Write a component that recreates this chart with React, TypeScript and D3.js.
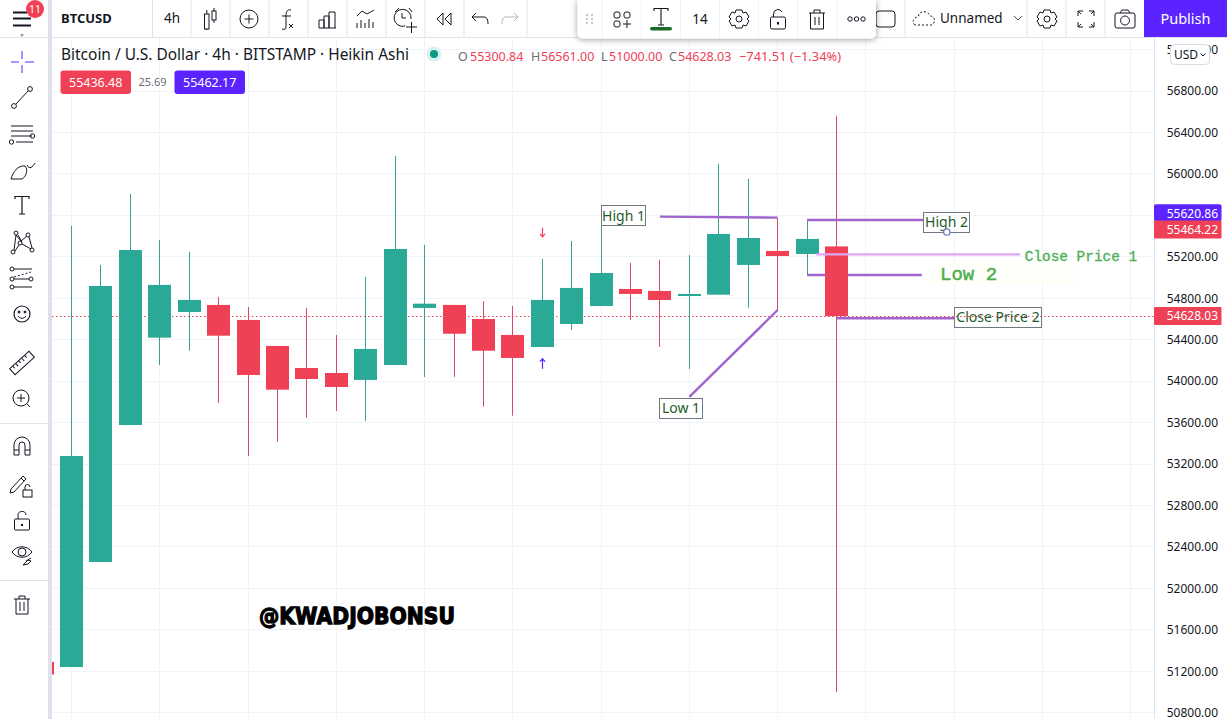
import React from "react";
import * as d3 from "d3";

// ---------- data ----------
const opens = [51241, 52255, 53577, 54420, 54668, 54736, 54591, 54340, 54127, 54079, 54012, 54156, 54707, 54736, 54600, 54446, 54330, 54552, 54726, 54890, 54871, 54822, 54835, 55122, 55257, 55228, 55300.84];
const closes = [53278, 54919, 55266, 54929, 54784, 54439, 54060, 53918, 54021, 53944, 54311, 55276, 54748, 54458, 54294, 54224, 54784, 54900, 55044, 54842, 54784, 54842, 55421, 55382, 55208, 55373, 54628.03];
const highs = [55498, 55122, 55807, 55363, 55247, 54813, 54716, 54340, 54707, 54446, 55006, 56174, 55315, 54736, 54774, 54726, 55180, 55353, 55595, 55141, 55170, 55218, 56097, 55952, 55575, 55556, 56561];
const lows = [51241, 52255, 53577, 54156, 54294, 53790, 53278, 53416, 53648, 53712, 53616, 54156, 54041, 54041, 53754, 53667, 54330, 54494, 54726, 54591, 54330, 54118, 54835, 54709, 54678, 55025, 51000];
const priceTicks = [57200, 56800, 56400, 56000, 55600, 55200, 54800, 54400, 54000, 53600, 53200, 52800, 52400, 52000, 51600, 51200, 50800];
const timeGridBars = [0, 3, 6, 9, 12, 15, 18, 21, 24, 27, 30, 33, 36];
const lastPrice = 54628.03;
const priceTags = [55620.86, 55464.22, 54628.03];
const trendLines: [number, number, number, number][] = [
  [20, 55588, 24, 55579],
  [21, 53848, 24, 54687],
  [25, 55556, 28.94, 55556],
  [25, 55025, 28.9, 55025],
  [26, 54607, 30, 54607],
];
const closeOneLine = [25.3, 55224, 32.24, 55224];
const boxedLabels: [string, number, number, number][] = [
  ["High 1", 18.03, 55595, 44],
  ["Low 1", 19.98, 53741, 43],
  ["High 2", 28.96, 55532, 46],
  ["Close Price 2", 30, 54615, 87],
];

const W = 1227, H = 719;
const UP = "#2aa996", DOWN = "#ef4056", PURPLE = "#5a23ff", INK = "#131722", LINE = "#e0e3eb", GRID = "#f0f3fa", TRAIL = "#a064cf";
const WICK_UP = "#3a9e90", WICK_DOWN = "#d94a63";
const FONT = "'Noto Sans', sans-serif";

const y = d3.scaleLinear().domain([56800, 50800]).range([91.1, 712.7]);
const x = d3.scaleLinear().domain([0, 26]).range([71.5, 836.5]);
const crisp = (v: number) => Math.floor(v) + 0.5;

const fmt = d3.format(".2f");

const ic = { fill: "none", stroke: INK, strokeWidth: 1 } as const;

function Icons() {
  return (
    <g {...ic}>
      {/* hamburger */}
      <path d="M13 12.5H27M13 18.5H31M13 25.5H31" strokeWidth={2} />
      <circle cx={22} cy={35} r={1.6} fill="#a0a3ad" stroke="none" />
      <circle cx={35} cy={9} r={9} fill={DOWN} stroke="none" />
      <text x={35} y={12.5} fontSize={10.5} fill="#fff" stroke="none" textAnchor="middle" fontFamily={FONT}>11</text>
      {/* top icons */}
      <g transform="translate(210,19)">
        <rect x={-5.5} y={-5} width={4.5} height={15} /><rect x={2} y={-8} width={4} height={9} /><path d="M-3.2 -9V-5M-3.2 10V11M4 -11V-8M4 1V4" />
      </g>
      <g transform="translate(249,19)"><circle r={9} /><path d="M-4.5 0H4.5M0 -4.5V4.5" /></g>
      <g transform="translate(288,19)"><path d="M3 -9C-1 -10 -2 -7 -2 -3V8C-2 10 -3 11 -6 10M-6 -3H3M1 5L5 9M5 5L1 9" /></g>
      <g transform="translate(327,19)"><path d="M-8 9H9M-8 9V1H-3V9M-3 9V-3H2V9M2 9V-7H8V9" /></g>
      <g transform="translate(366,19)"><path d="M-9 -3L-4 -8L1 -5L8 -9M-9 9V4M-5 9V1M-1 9V4M3 9V0M7 9V3" /></g>
      <g transform="translate(404,19)">
        <path d="M2 8A8.5 8.5 0 1 1 8 1M-1 -5V0H3M-8 -6L-4 -10M6 -10L9 -6M3 9H14M8.5 4V15" transform="translate(-1,-1)" />
      </g>
      <g transform="translate(444,19)"><path d="M-1 -6L-7 0L-1 6ZM7 -6L1 0L7 6Z" /></g>
      <g transform="translate(481,19)"><path d="M-5 -6L-9 -2L-5 2M-9 -2H3C6 -2 7 1 7 5" /></g>
      <g transform="translate(509,19)" stroke="#b2b5be"><path d="M5 -6L9 -2L5 2M9 -2H-3C-6 -2 -7 1 -7 5" /></g>

      {/* left toolbar */}
      <g stroke={PURPLE}><path d="M22 51V59M22 65V73M11 62H19M25 62H34" /></g>
      <g transform="translate(22,97)"><circle cx={-8} cy={9} r={2.4} /><circle cx={8} cy={-8} r={2.4} /><path d="M-6 7L6 -6" /></g>
      <g transform="translate(22,133)"><path d="M-11 -7H11M-11 -2H11M-11 3H10M-6 9H11" /><circle cx={10.5} cy={3} r={2.2} /><circle cx={-10.5} cy={9} r={2.2} /></g>
      <g transform="translate(22,171)"><path d="M-11 8C-9 1 -4 -6 3 -5C6 -2 5 5 0 8ZM5 -6C7 -1 11 -4 13 -8" /></g>
      <g transform="translate(22,205)" strokeWidth={1.2}><path d="M-7 -6V-8.5H7V-6M0 -8.5V9M-3 9H3" /></g>
      <g transform="translate(22,242)">
        <circle cx={-9} cy={10} r={2} /><circle cx={-6} cy={-9} r={2} /><circle cx={-2} cy={1} r={2} /><circle cx={6} cy={-7} r={2} /><circle cx={10} cy={8} r={2} />
        <path d="M-8 8L-6 -7L-1 -1M-7 9L-3 3M-1 -1L5 -6M0 2L9 7M7 -5L10 6M-4 -7L0 0" />
      </g>
      <g transform="translate(22,278)">
        <circle cx={-10} cy={-9} r={2} /><circle cx={-10} cy={1} r={2} /><circle cx={-10} cy={9} r={2} /><circle cx={9} cy={1} r={2} />
        <path d="M-8 -9H10M-8 1H7M-8 9H10" /><path d="M-8 -1L9 -6" strokeDasharray="2 2" />
      </g>
      <g transform="translate(22,314)"><circle r={8} strokeWidth={1.2} /><circle cx={-3} cy={-2} r={1} fill={INK} /><circle cx={3} cy={-2} r={1} fill={INK} /><path d="M-4 2C-2 5 2 5 4 2" /></g>
      <g transform="translate(22,363) rotate(-42)"><rect x={-13} y={-4} width={26} height={8} /><path d="M-9 -4V-1M-5 -4V0M-1 -4V-1M3 -4V0M7 -4V-1" /></g>
      <g transform="translate(21,398)"><circle r={8} /><path d="M-4 0H4M0 -4V4M6 6L9 9" /></g>
      <g transform="translate(22,447)"><path d="M-8 8V-2A8 8 0 0 1 8 -2V8H3V-2A3 3 0 0 0 -3 -2V8ZM-8 3H-3M3 3H8" /></g>
      <g transform="translate(19,482)"><path d="M-8 7L-9 11L-5 10L7 -3L4 -6ZM2 -4L5 -1" /><rect x={4} y={8} width={9} height={7} /><path d="M6 8V5A2.5 2.5 0 0 1 11 5" /></g>
      <g transform="translate(22,521)"><rect x={-7.5} y={-2} width={15} height={11} rx={1} /><path d="M-4 -2V-5A4 4 0 0 1 4 -6" /><path d="M0 3V5" strokeWidth={2} /></g>
      <g transform="translate(22,552)"><path d="M-10 0C-5 -7 5 -7 10 0C5 7 -5 7 -10 0Z" /><circle r={4} /><path d="M1 13L6 8L9 9L6 12ZM4 9L9 6" /></g>
      <g transform="translate(22,605)"><path d="M-8 -6H8M-3 -6V-9H3V-6M-6 -6V9H6V-6M-2 -3V6M2 -3V6" /></g>

      {/* right toolbar */}
      <rect x={876} y={11} width={19} height={16} rx={3} />
      <g transform="translate(925,19)"><path d="M-10 6C-14 3 -11 -2 -7 -2C-6 -9 3 -9 5 -3C10 -3 11 3 7 6Z" strokeDasharray="2 2" /></g>
      <path d="M1014 16L1018 20L1022 16" stroke="#50535e" />
      <g transform="translate(1047,19)"><circle r={3} /><path d="M-3 -9H3L4 -6L7 -7L10 -2L8 0L10 2L7 7L4 6L3 9H-3L-4 6L-7 7L-10 2L-8 0L-10 -2L-7 -7L-4 -6Z" /></g>
      <g transform="translate(1086,19)"><path d="M-8 -3V-8H-3M3 -8H8V-3M-8 3V8H-3M3 8H8V3M-8 -8L-5 -5M8 -8L5 -5M-8 8L-5 5M8 8L5 5" /></g>
      <g transform="translate(1125,19)"><rect x={-10} y={-6} width={20} height={15} rx={2} /><circle cy={1.5} r={4.5} /><path d="M-5 -6L-3 -9H3L5 -6" /></g>
    </g>
  );
}

function FloatingBar() {
  const seps = [602, 641, 680.5, 719.5, 758.5, 797.5, 837];
  return (
    <g>
      <defs>
        <filter id="sh" x="-5%" y="-20%" width="110%" height="150%">
          <feDropShadow dx={0} dy={1} stdDeviation={3} floodColor="#000" floodOpacity={0.4} />
        </filter>
      </defs>
      <path d="M577.5 0H876V33Q876 38.5 870 38.5H583Q577.5 38.5 577.5 33Z" fill="#fff" filter="url(#sh)" />
      {seps.map(s => <line key={s} x1={s} x2={s} y1={0} y2={38} stroke={GRID} />)}
      <g fill="#c8cad2">
        {[585, 590].map(a => [15, 19, 23].map(b => <circle key={a + "-" + b} cx={a + 2} cy={b} r={1.2} />))}
      </g>
      <g {...ic}>
        <rect x={614} y={12} width={6} height={6} rx={2} /><rect x={624} y={12} width={6} height={6} rx={2} /><rect x={614} y={21} width={6} height={6} rx={2} />
        <path d="M623 24H631M627 20V28" />
        <path d="M654 11V8.5H668V11M661 8.5V25M658 25H664" strokeWidth={1.1} />
        <g transform="translate(739,19)"><circle r={3} /><path d="M-3 -9H3L4 -6L7 -7L10 -2L8 0L10 2L7 7L4 6L3 9H-3L-4 6L-7 7L-10 2L-8 0L-10 -2L-7 -7L-4 -6Z" /></g>
        <g transform="translate(778,20)"><rect x={-7.5} y={-3} width={15} height={12} rx={1.5} /><path d="M-4.5 -3V-6A4.5 4.5 0 0 1 4 -8" /><path d="M0 2V4.5" strokeWidth={2} /></g>
        <g transform="translate(817,20)"><path d="M-8 -7H8M-3 -7V-10H3V-7M-6.5 -7V9H6.5V-7M-2 -3V5M2 -3V5" /></g>
        <circle cx={850} cy={19} r={2.2} /><circle cx={856.5} cy={19} r={2.2} /><circle cx={863} cy={19} r={2.2} />
      </g>
      <rect x={650} y={27} width={22} height={3.6} rx={1.8} fill="#1b6b2a" />
      <text x={700} y={24} fontSize={13.5} fill={INK} textAnchor="middle" fontFamily={FONT}>14</text>
    </g>
  );
}

export default function App() {
  const bw = 23;
  const yLast = crisp(y(lastPrice));
  return (
    <svg width={W} height={H} viewBox={`0 0 ${W} ${H}`} style={{ position: "fixed", left: 0, top: 0, background: "#fff" }} fontFamily={FONT}>
      {/* grid */}
      {priceTicks.map(t => <line key={t} x1={52} x2={1154} y1={crisp(y(t))} y2={crisp(y(t))} stroke={GRID} />)}
      {timeGridBars.map(b => <line key={b} x1={crisp(x(b))} x2={crisp(x(b))} y1={37} y2={H} stroke={GRID} />)}

      {/* low 2 line lies under the candles */}
      {(() => {
        const [a, b, c, d] = trendLines[3];
        return <line x1={x(a)} x2={x(c)} y1={y(b)} y2={y(d)} stroke={TRAIL} strokeWidth={2.4} />;
      })()}

      <line x1={52} x2={1154} y1={yLast} y2={yLast} stroke={DOWN} strokeDasharray="1.5 2.5" />

      {/* candles */}
      {opens.map((o, i) => {
        const c = closes[i];
        const up = c >= o;
        const top = y(Math.max(o, c)), bot = y(Math.min(o, c));
        return (
          <g key={i}>
            <line x1={crisp(x(i))} x2={crisp(x(i))} y1={y(highs[i])} y2={y(lows[i])} stroke={up ? WICK_UP : WICK_DOWN} strokeWidth={1} />
            <rect x={Math.round(x(i) - bw / 2)} y={top} width={bw} height={Math.max(bot - top, 1)} fill={up ? UP : DOWN} />
          </g>
        );
      })}

      {/* small arrows on bar 16 */}
      <path d={`M${crisp(x(16))} ${y(55480)}v9m-2.5 -3l2.5 3l2.5 -3`} fill="none" stroke={DOWN} strokeWidth={1.2} />
      <path d={`M${crisp(x(16))} ${y(54150) - 9}v10m-2.5 -7l2.5 -3l2.5 3`} transform="translate(0,2)" fill="none" stroke={PURPLE} strokeWidth={1.2} />

      {/* left marker */}
      <rect x={52} y={y(51290)} width={2} height={12.5} fill={DOWN} />

      {/* annotations */}
      {trendLines.map(([a, b, c, d], i) => i === 3 ? null : (
        <line key={i} x1={x(a)} x2={x(c)} y1={y(b)} y2={y(d)} stroke={TRAIL} strokeWidth={2.4} />
      ))}
      <line x1={x(closeOneLine[0])} x2={x(closeOneLine[2])} y1={y(closeOneLine[1])} y2={y(closeOneLine[3])} stroke="#dba9f2" strokeWidth={2.4} />
      {boxedLabels.map(([t, bi, p, w]) => (
        <g key={t}>
          <rect x={crisp(x(bi))} y={crisp(y(p) - 10)} width={w} height={20} fill={t === "Close Price 2" || t === "High 2" ? "none" : "#fff"} stroke="#6f7a80" />
          <text x={crisp(x(bi)) + w / 2} y={y(p) + 5} fontSize={14} fill="#1f5c2a" textAnchor="middle">{t}</text>
        </g>
      ))}
      <circle cx={x(29.75)} cy={y(55440)} r={3.2} fill="#fff" stroke="#7474cc" strokeWidth={1.3} />
      <text x={x(32.4)} y={y(55199) + 4.5} fontSize={14.4} fill="#4caf50" stroke="#4caf50" strokeWidth={0.3} fontFamily="'Liberation Mono', monospace">Close Price 1</text>
      <rect x={932} y={263} width={142} height={21} fill="#fffff9" />
      <text x={x(29.52)} y={y(55035) + 6.5} fontSize={19} fill="#4caf50" stroke="#4caf50" strokeWidth={0.5} fontFamily="'Liberation Mono', monospace">Low 2</text>

      {/* watermark */}
      <text x={259} y={624} fontSize={23} fontWeight={700} fontFamily="'DejaVu Sans', sans-serif" stroke="#000" strokeWidth={1.3} fill="#000" textLength={196} lengthAdjust="spacingAndGlyphs">@KWADJOBONSU</text>

      {/* price axis */}
      <rect x={1155} y={37} width={72} height={H - 37} fill="#fff" />
      <line x1={1154.5} x2={1154.5} y1={37} y2={H} stroke={LINE} />
      {priceTicks.map(t => (
        <text key={t} x={1218} y={y(t) + 4.3} fontSize={12} fill={INK} textAnchor="end">{fmt(t)}</text>
      ))}
      {priceTags.map((p, i) => (
        <g key={p}>
          <rect x={1154} y={y(p) - 9} width={67.5} height={i === 0 ? 17 : 18} rx={i === 0 ? 2 : 1} fill={i === 0 ? PURPLE : DOWN} />
          <text x={1218} y={y(p) + 4.3} fontSize={12} fill="#fff" textAnchor="end">{fmt(p)}</text>
        </g>
      ))}
      <rect x={1170.5} y={44.5} width={39} height={20} rx={4} fill="#fff" stroke="#dadbe3" />
      <text x={1174} y={59} fontSize={12} fill={INK}>USD</text>
      <path d="M1200.5 53.5L1203 56L1205.5 53.5" fill="none" stroke={INK} />

      {/* legend */}
      <text x={61} y={60} fontSize={16} fill={INK} textLength={348} lengthAdjust="spacingAndGlyphs">Bitcoin / U.S. Dollar · 4h · BITSTAMP · Heikin Ashi</text>
      <circle cx={434} cy={54} r={7.5} fill="#d9f1ee" />
      <circle cx={434} cy={54} r={4} fill="#089981" />
      <g fontSize={12.5}>
        <text x={458} y={61} fill="#6a6d78">O</text>
        <text x={470} y={61} fill={DOWN}>55300.84</text>
        <text x={531} y={61} fill="#6a6d78">H</text>
        <text x={541} y={61} fill={DOWN}>56561.00</text>
        <text x={601} y={61} fill="#6a6d78">L</text>
        <text x={609} y={61} fill={DOWN}>51000.00</text>
        <text x={669} y={61} fill="#6a6d78">C</text>
        <text x={678} y={61} fill={DOWN}>54628.03</text>
        <text x={739} y={61} fill={DOWN} textLength={102} lengthAdjust="spacingAndGlyphs">−741.51 (−1.34%)</text>
      </g>
      <rect x={60.5} y={70.5} width={70.5} height={23.5} rx={3} fill={DOWN} />
      <text x={95.7} y={87} fontSize={12.5} fill="#fff" textAnchor="middle">55436.48</text>
      <text x={152.5} y={86} fontSize={11} fill="#6a6d78" textAnchor="middle">25.69</text>
      <rect x={174.5} y={70.5} width={70.5} height={23.5} rx={3} fill={PURPLE} />
      <text x={209.7} y={87} fontSize={12.5} fill="#fff" textAnchor="middle">55462.17</text>

      {/* chrome */}
      <rect x={0} y={0} width={W} height={37} fill="#fff" />
      <line x1={0} x2={W} y1={37.5} y2={37.5} stroke={LINE} />
      <rect x={0} y={0} width={48} height={H} fill="#fff" />
      <rect x={48} y={0} width={4} height={H} fill="#dfe0ec" />
      <line x1={0} x2={48} y1={423.5} y2={423.5} stroke={LINE} />
      <line x1={0} x2={48} y1={580.5} y2={580.5} stroke={LINE} />
      <line x1={0} x2={48} y1={37.5} y2={37.5} stroke={LINE} />
      {[152.5, 191, 230, 269, 308, 347, 386, 425, 464, 527, 905, 1027, 1066, 1105].map(s => (
        <line key={s} x1={s} x2={s} y1={0} y2={37} stroke={LINE} />
      ))}
      <text x={61} y={23} fontSize={13} fontWeight={700} fill={INK}>BTCUSD</text>
      <text x={172} y={23} fontSize={13.5} fill={INK} textAnchor="middle">4h</text>
      <text x={940} y={23} fontSize={13.5} fill={INK}>Unnamed</text>
      <rect x={1144} y={0} width={83} height={37} fill={PURPLE} />
      <text x={1185.5} y={24} fontSize={14.5} fill="#fff" textAnchor="middle">Publish</text>
      <Icons />
      <FloatingBar />
    </svg>
  );
}
